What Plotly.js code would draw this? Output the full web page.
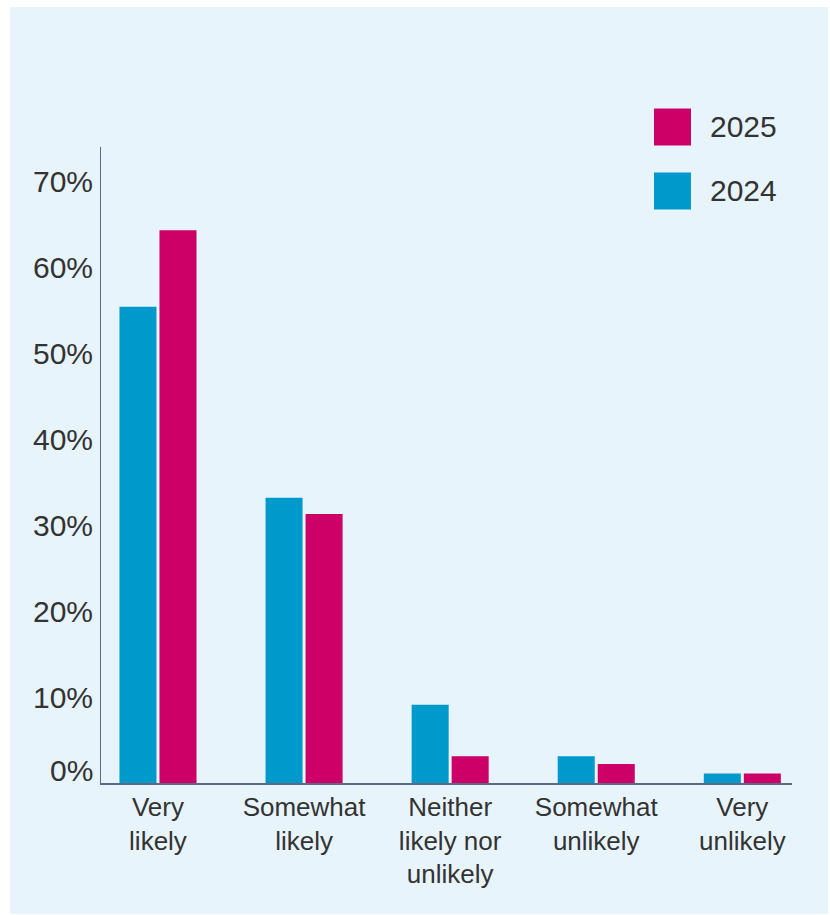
<!DOCTYPE html>
<html>
<head>
<meta charset="utf-8">
<script src="https://cdn.plot.ly/plotly-3.0.1.min.js"></script>
<style>
  html, body { margin: 0; padding: 0; background: #ffffff; width: 830px; height: 915px; overflow: hidden; }
  #chart { position: absolute; left: 10px; top: 7px; width: 818px; height: 907px; }
</style>
</head>
<body>
<div id="chart"></div>
<script>
// ---- data ----
const categories = ["Very<br>likely", "Somewhat<br>likely", "Neither<br>likely nor<br>unlikely", "Somewhat<br>unlikely", "Very<br>unlikely"];
const seriesNames = ["2024", "2025"];
const values2024 = [55.4, 33.2, 9.1, 3.1, 1.1];
const values2025 = [64.3, 31.3, 3.1, 2.2, 1.1];
const yTickValues = [0, 10, 20, 30, 40, 50, 60, 70];
const yTickLabels = ["0%", "10%", "20%", "30%", "40%", "50%", "60%", "70%"];

// ---- styles ----
const colors = {"2024": "#0099CC", "2025": "#CC0066"};
const textColor = "#333333";
const fontFamily = "'Liberation Sans', Arial, sans-serif";

const traces = [
  {type: "bar", name: seriesNames[0], x: categories, y: values2024, marker: {color: colors["2024"]}, hoverinfo: "skip"},
  {type: "bar", name: seriesNames[1], x: categories, y: values2025, marker: {color: colors["2025"]}, hoverinfo: "skip"}
];

// y tick labels as annotations (0% label is lifted above the axis line)
const annotations = yTickValues.map((v, i) => ({
  xref: "paper", yref: "y", x: 0, y: v, xanchor: "right", yanchor: "middle",
  xshift: -6, yshift: v === 0 ? 13 : 0,
  text: yTickLabels[i], showarrow: false,
  font: {family: fontFamily, size: 30, color: textColor}
}));

// custom legend (2025 on top, 2024 below)
const legendOrder = ["2025", "2024"];
const legendY = [[1.0024, 1.0605], [0.9018, 0.960]];
const shapes = [];
legendOrder.forEach((name, i) => {
  shapes.push({type: "rect", xref: "paper", yref: "paper", x0: 0.8003, x1: 0.8538,
    y0: legendY[i][0], y1: legendY[i][1], fillcolor: colors[name], line: {width: 0}});
  annotations.push({xref: "paper", yref: "paper", x: 0.8785, y: (legendY[i][0] + legendY[i][1]) / 2,
    xanchor: "left", yanchor: "middle", text: name, showarrow: false,
    font: {family: fontFamily, size: 30, color: textColor}});
});

const layout = {
  width: 818, height: 907,
  margin: {l: 91, r: 36, t: 140, b: 131},
  paper_bgcolor: "#E8F4FB", plot_bgcolor: "#E8F4FB",
  showlegend: false,
  barmode: "group", bargap: 0.452, bargroupgap: 0.075,
  font: {family: fontFamily, color: textColor},
  xaxis: {
    type: "category", range: [-0.39, 4.34],
    showline: true, linecolor: "#5B6B86", linewidth: 1.5,
    showgrid: false, zeroline: false, ticks: "",
    tickfont: {family: fontFamily, size: 26, color: textColor},
    fixedrange: true
  },
  yaxis: {
    range: [0, 74], tickvals: yTickValues, ticktext: yTickLabels,
    showticklabels: false,
    showline: true, linecolor: "#5B6B86", linewidth: 1.5,
    showgrid: false, zeroline: false, ticks: "",
    fixedrange: true
  },
  shapes: shapes,
  annotations: annotations
};

Plotly.newPlot("chart", traces, layout, {displayModeBar: false, staticPlot: true});
</script>
</body>
</html>
